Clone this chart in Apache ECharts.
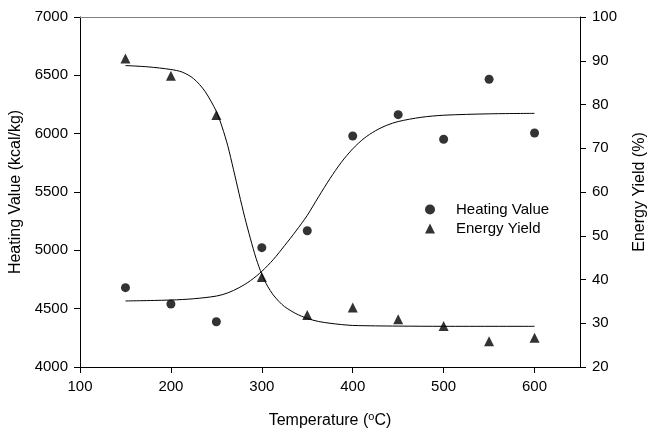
<!DOCTYPE html>
<html>
<head>
<meta charset="utf-8">
<script src="https://cdn.jsdelivr.net/npm/echarts@6/dist/echarts.min.js"></script>
<style>
	html, body { margin: 0; padding: 0; background: #fff; }
	#chart { width: 648px; height: 432px; }
</style>
</head>
<body>
<div id="chart"></div>
<script>
	// measured points
	const temps = [150, 200, 250, 300, 350, 400, 450, 500, 550, 600]
	const heatingValue = [4680, 4540, 4388, 5023, 5168, 5980, 6163, 5952, 6466, 6006]
	const energyYield = [90.5, 86.6, 77.6, 40.6, 31.9, 33.6, 30.9, 29.4, 25.9, 26.7]

	// fitted curves
	const heatingFitX = [150, 200, 225, 250, 262.5, 275, 287.5, 300, 312.5, 325, 337.5, 350, 362.5, 375, 387.5, 400, 412.5, 425, 437.5, 450, 475, 500, 550, 600]
	const heatingFit = [4566, 4574, 4585, 4608, 4635, 4680, 4740, 4820, 4920, 5040, 5165, 5300, 5460, 5615, 5755, 5870, 5960, 6025, 6072, 6104, 6140, 6158, 6170, 6174]
	const energyFitX = [150, 175, 200, 212.5, 225, 237.5, 250, 256.25, 262.5, 268.75, 275, 281.25, 287.5, 293.75, 300, 306.25, 312.5, 318.75, 325, 337.5, 350, 362.5, 375, 387.5, 400, 425, 450, 500, 600]
	const energyFit = [88.9, 88.6, 88.0, 87.4, 85.9, 83.0, 78.4, 74.9, 70.6, 65.2, 59.6, 54.2, 49.3, 44.8, 41.2, 38.5, 36.5, 35.0, 33.8, 32.2, 31.1, 30.4, 30.0, 29.7, 29.5, 29.4, 29.35, 29.3, 29.3]

	const font = '"Liberation Sans", Arial, sans-serif'
	const pair = (xs, ys) => xs.map((x, i) => [x, ys[i]])
	const plain = v => String(v)

	const option = {
		animation: false,
		textStyle: { fontFamily: font, color: '#000' },
		grid: { left: 80, right: 68, top: 17, bottom: 65, outerBoundsMode: 'none' },
		legend: {
			orient: 'vertical',
			left: 420,
			top: 197,
			itemWidth: 10,
			itemHeight: 10,
			itemGap: 4,
			textStyle: { fontFamily: font, fontSize: 15, color: '#000', padding: [0, 0, 0, 16] },
			data: [
				{ name: 'Heating Value', icon: 'circle' },
				{ name: 'Energy Yield', icon: 'triangle' }
			]
		},
		xAxis: [
			{
				type: 'value',
				min: 100,
				max: 650,
				interval: 100,
				name: 'Temperature ({sup|o}C)',
				nameLocation: 'middle',
				nameGap: 44,
				nameTextStyle: {
					fontFamily: font, fontSize: 16, color: '#000',
					rich: { sup: { fontFamily: font, fontSize: 11, verticalAlign: 'top', padding: [0, 0, 8, 0] } }
				},
				axisLine: { lineStyle: { color: '#000', width: 1 } },
				axisTick: { inside: false, length: 6, lineStyle: { color: '#000' } },
				axisLabel: { fontFamily: font, fontSize: 15, color: '#000', margin: 12, showMaxLabel: false, formatter: plain },
				splitLine: { show: false }
			},
			{
				type: 'value',
				position: 'top',
				min: 100,
				max: 650,
				axisLine: { show: true, lineStyle: { color: '#808080', width: 1 } },
				axisTick: { show: false },
				axisLabel: { show: false },
				splitLine: { show: false }
			}
		],
		yAxis: [
			{
				type: 'value',
				min: 4000,
				max: 7000,
				interval: 500,
				name: 'Heating Value (kcal/kg)',
				nameLocation: 'middle',
				nameGap: 56,
				nameRotate: 90,
				nameTextStyle: { fontFamily: font, fontSize: 16, color: '#000' },
				axisLine: { show: true, lineStyle: { color: '#000', width: 1 } },
				axisTick: { show: true, inside: false, length: 6, lineStyle: { color: '#000' } },
				axisLabel: { fontFamily: font, fontSize: 15, color: '#000', margin: 12, formatter: plain },
				splitLine: { show: false }
			},
			{
				type: 'value',
				position: 'right',
				min: 20,
				max: 100,
				interval: 10,
				name: 'Energy Yield (%)',
				nameLocation: 'middle',
				nameGap: 52,
				nameRotate: 90,
				nameTextStyle: { fontFamily: font, fontSize: 16, color: '#000' },
				axisLine: { show: true, lineStyle: { color: '#000', width: 1 } },
				axisTick: { show: true, inside: false, length: 6, lineStyle: { color: '#000' } },
				axisLabel: { fontFamily: font, fontSize: 15, color: '#000', margin: 12, formatter: plain },
				splitLine: { show: false }
			}
		],
		series: [
			{
				name: 'Heating Fit',
				type: 'line',
				xAxisIndex: 0,
				yAxisIndex: 0,
				smooth: 0.3,
				symbol: 'none',
				lineStyle: { color: '#000', width: 1 },
				data: pair(heatingFitX, heatingFit)
			},
			{
				name: 'Energy Fit',
				type: 'line',
				xAxisIndex: 0,
				yAxisIndex: 1,
				smooth: 0.3,
				symbol: 'none',
				lineStyle: { color: '#000', width: 1 },
				data: pair(energyFitX, energyFit)
			},
			{
				name: 'Heating Value',
				type: 'scatter',
				xAxisIndex: 0,
				yAxisIndex: 0,
				symbol: 'circle',
				symbolSize: 9,
				itemStyle: { color: '#000' },
				data: pair(temps, heatingValue)
			},
			{
				name: 'Energy Yield',
				type: 'scatter',
				xAxisIndex: 0,
				yAxisIndex: 1,
				symbol: 'triangle',
				symbolSize: 10,
				itemStyle: { color: '#000' },
				data: pair(temps, energyYield)
			}
		]
	}

	let chart = echarts.init(document.getElementById('chart'))
	chart.setOption(option)
</script>
</body>
</html>
